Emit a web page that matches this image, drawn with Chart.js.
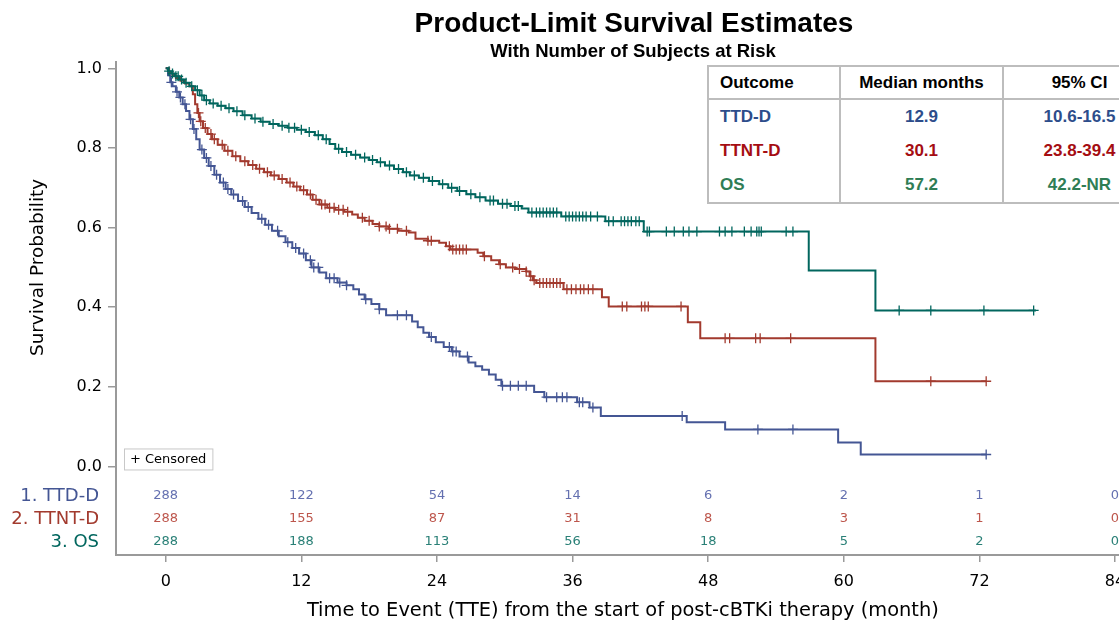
<!DOCTYPE html>
<html>
<head>
<meta charset="utf-8">
<script src="https://cdn.jsdelivr.net/npm/chart.js@4.4.1/dist/chart.umd.min.js"></script>
<style>
  html, body { margin: 0; padding: 0; background: #fff; overflow: hidden; }
  #frame { position: relative; width: 1119px; height: 626px; overflow: hidden; }
  #km { position: absolute; left: 0; top: 0; }
  #summary { position: absolute; left: 707px; top: 65px; width: 447px; table-layout: fixed; border-collapse: collapse;
    font: bold 17px "Liberation Sans", Arial, sans-serif; background: #fff; }
  #summary td { height: 34px; padding: 0; text-align: center; border-left: 2px solid #bdbdbd; }
  #summary tr:first-child td { height: 31px; border-top: 2px solid #bdbdbd; border-bottom: 2px solid #bdbdbd; color: #000; }
  #summary tr:last-child td { border-bottom: 2px solid #bdbdbd; }
  #summary td.name { text-align: left; padding-left: 11px; }
</style>
</head>
<body>
<div id="frame">
  <canvas id="km" width="1136" height="626"></canvas>
  <table id="summary">
    <colgroup><col style="width:132px"><col style="width:163px"><col style="width:152px"></colgroup>
    <tr><td class="name">Outcome</td><td>Median months</td><td>95% CI</td></tr>
    <tr style="color:#2d4d8b"><td class="name">TTD-D</td><td>12.9</td><td>10.6-16.5</td></tr>
    <tr style="color:#a50d12"><td class="name">TTNT-D</td><td>30.1</td><td>23.8-39.4</td></tr>
    <tr style="color:#2f7d55"><td class="name">OS</td><td>57.2</td><td>42.2-NR</td></tr>
  </table>
</div>
<script>
// step points [month, survival]
const ttdSteps = [[0,1],[0.2,0.983],[0.4,0.965],[0.6,0.955],[0.9,0.941],[1.2,0.927],[1.5,0.910],[1.8,0.893],[2.1,0.872],[2.4,0.848],
  [2.7,0.822],[3.0,0.796],[3.4,0.775],[3.8,0.755],[4.3,0.733],[4.8,0.713],[5.3,0.697],[5.8,0.683],[6.4,0.667],[7.0,0.652],
  [7.6,0.637],[8.2,0.622],[8.8,0.607],[9.4,0.592],[10.0,0.578],[10.6,0.563],[11.2,0.549],[11.8,0.535],[12.4,0.518],[12.9,0.500],
  [13.6,0.487],[14.2,0.473],[15.2,0.462],[16.0,0.455],[16.6,0.445],[17.1,0.432],[17.6,0.420],[18.2,0.408],[18.9,0.395],[19.5,0.380],
  [21.8,0.364],[22.3,0.350],[22.8,0.336],[23.3,0.325],[23.9,0.312],[24.6,0.300],[25.3,0.289],[26.0,0.276],[26.8,0.261],[27.4,0.252],
  [28.0,0.243],[28.6,0.231],[29.2,0.218],[29.7,0.203],[32.6,0.187],[33.5,0.174],[36.4,0.161],[37.5,0.148],[38.5,0.127],[46.1,0.111],
  [49.5,0.093],[59.5,0.060],[61.5,0.030],[72.6,0.030]];
const ttntSteps = [[0,1],[0.3,0.990],[0.6,0.983],[0.9,0.976],[1.3,0.969],[1.7,0.962],[2.1,0.955],[2.4,0.935],[2.6,0.910],[2.8,0.888],
  [3.0,0.867],[3.3,0.850],[3.7,0.835],[4.1,0.822],[4.6,0.808],[5.2,0.793],[5.9,0.779],[6.6,0.767],[7.3,0.757],[8.0,0.748],
  [8.7,0.739],[9.3,0.731],[10.0,0.722],[10.7,0.713],[11.3,0.703],[11.9,0.694],[12.5,0.683],[13.0,0.670],[13.6,0.658],[14.3,0.650],
  [15.0,0.645],[15.8,0.640],[16.5,0.633],[17.0,0.625],[17.6,0.617],[18.3,0.609],[18.9,0.603],[19.7,0.597],[20.6,0.592],[21.5,0.588],
  [22.1,0.572],[23.2,0.567],[24.2,0.562],[24.8,0.553],[25.2,0.545],[27.6,0.537],[28.1,0.528],[28.8,0.518],[29.5,0.508],[30.1,0.500],
  [30.9,0.496],[31.9,0.490],[32.2,0.478],[32.5,0.468],[32.8,0.461],[35.2,0.445],[38.6,0.425],[39.2,0.402],[46.2,0.362],[47.3,0.322],
  [62.8,0.214],[72.6,0.214]];
const osSteps = [[0,1],[0.2,0.993],[0.5,0.987],[0.8,0.980],[1.2,0.972],[1.6,0.964],[2.1,0.955],[2.6,0.945],[3.0,0.932],[3.4,0.920],
  [3.9,0.912],[4.6,0.906],[5.3,0.900],[6.0,0.892],[6.8,0.882],[7.6,0.874],[8.4,0.866],[9.2,0.860],[10.0,0.856],[10.8,0.851],
  [11.6,0.846],[12.4,0.840],[13.2,0.832],[13.9,0.822],[14.5,0.810],[15.0,0.798],[15.6,0.790],[16.4,0.783],[17.2,0.776],[18.0,0.770],
  [18.7,0.764],[19.4,0.756],[20.2,0.747],[21.0,0.739],[21.6,0.731],[22.4,0.725],[23.3,0.717],[24.2,0.709],[25.0,0.700],[25.8,0.692],
  [26.6,0.684],[27.4,0.676],[28.3,0.668],[29.4,0.660],[30.5,0.654],[31.5,0.648],[32.1,0.638],[35.0,0.628],[38.9,0.616],[42.3,0.590],
  [56.9,0.492],[62.8,0.392],[77.0,0.392]];

// censoring times (months)
const ttdCensor = [0.5,1.0,1.3,1.7,2.2,2.5,3.2,3.6,4.0,4.5,5.1,5.5,6.0,6.8,7.3,8.5,9.1,9.9,10.8,11.5,12.2,12.8,13.1,13.5,14.5,
  14.9,15.4,16.0,17.7,18.9,20.5,21.3,23.5,25.1,25.4,25.7,26.7,29.8,30.5,31.2,31.9,33.7,34.6,35.1,35.5,36.6,36.9,37.8,45.7,52.4,55.5,72.6];
const ttntCensor = [2.9,3.1,3.5,4.0,4.3,5.0,5.5,6.2,7.0,7.7,8.3,9.0,9.6,10.3,11.0,11.6,12.2,12.8,13.3,13.8,14.1,14.5,14.9,15.3,15.7,
  16.1,17.4,18.0,18.9,19.5,19.8,20.5,21.3,23.2,23.5,25.1,25.4,25.7,26.0,26.3,26.6,28.2,29.6,30.7,31.3,31.9,32.3,32.6,33.1,33.4,
  33.7,34.0,34.3,34.6,34.9,35.5,35.9,36.3,36.7,37.0,37.4,37.8,40.4,40.8,42.1,42.4,42.7,45.6,49.5,49.9,52.2,52.6,55.3,67.7,72.6];
const osCensor = [0.3,0.6,0.9,1.1,1.4,1.8,2.3,2.8,3.2,3.6,4.2,4.9,5.6,6.3,7.0,7.9,8.6,9.5,10.3,10.9,11.4,12.0,12.7,13.5,14.2,
  15.3,16.0,16.8,17.6,18.3,19.0,19.8,20.6,21.3,22.0,22.8,23.6,24.5,25.3,26.0,27.0,27.8,28.7,29.0,29.8,30.2,30.9,31.2,32.4,32.8,
  33.1,33.4,33.7,34.0,34.3,34.6,35.4,35.7,36.0,36.3,36.6,36.9,37.2,37.6,38.2,39.2,39.6,40.3,40.6,40.9,41.2,41.6,41.9,42.6,42.8,
  44.3,45.0,45.8,46.3,47.0,49.0,49.5,50.1,51.2,51.8,52.3,52.5,52.7,54.9,55.5,64.9,67.7,72.4,76.8];

// number at risk
const riskTimes = [0, 12, 24, 36, 48, 60, 72, 84];
const riskTtd  = [288, 122, 54, 14, 6, 2, 1, 0];
const riskTtnt = [288, 155, 87, 31, 8, 3, 1, 0];
const riskOs   = [288, 188, 113, 56, 18, 5, 2, 0];
const riskLabels = ['1. TTD-D', '2. TTNT-D', '3. OS'];

const xTicks = [0, 12, 24, 36, 48, 60, 72, 84];
const yTicks = [0, 0.2, 0.4, 0.6, 0.8, 1.0];

const LINE = ['#445694', '#A23A2E', '#01665E'];
const RISK = ['#6470b0', '#bd564c', '#2a8077'];
const FONT = '"DejaVu Sans", Verdana, sans-serif';

function survAt(steps, t) {
  let s = steps[0][1];
  for (const [tt, ss] of steps) { if (tt <= t) s = ss; else break; }
  return s;
}

function lineSet(steps, color) {
  return { type: 'line', data: steps.map(([t, s]) => ({ x: t, y: s })), borderColor: color,
    borderWidth: 2, stepped: 'before', pointRadius: 0, fill: false };
}
function censorSet(steps, times, color) {
  return { type: 'line', data: times.map(t => ({ x: t, y: survAt(steps, t) })), showLine: false,
    pointStyle: 'cross', pointRadius: 5, pointBorderWidth: 1.3, borderColor: color, backgroundColor: color };
}

const overlay = {
  id: 'overlay',
  afterDraw(chart) {
    const { ctx, scales: { x, y } } = chart;
    ctx.save();
    ctx.fillStyle = '#000';
    ctx.textAlign = 'center';
    ctx.textBaseline = 'middle';
    ctx.font = 'bold 28px "Liberation Sans", Arial, sans-serif';
    ctx.fillText('Product-Limit Survival Estimates', 634, 24);
    ctx.font = 'bold 18.5px "Liberation Sans", Arial, sans-serif';
    ctx.fillText('With Number of Subjects at Risk', 633, 52);

    // y title
    ctx.save();
    ctx.translate(38, y.getPixelForValue(0.5));
    ctx.rotate(-Math.PI / 2);
    ctx.font = '18.4px ' + FONT;
    ctx.fillText('Survival Probability', 0, 0);
    ctx.restore();

    // censored legend
    ctx.font = '13px ' + FONT;
    const lt = '+ Censored';
    const lw = ctx.measureText(lt).width + 12;
    const lx = x.left + 8, ly = y.getPixelForValue(0) - 18;
    ctx.strokeStyle = '#c8c8c8';
    ctx.lineWidth = 1;
    ctx.strokeRect(lx + 0.5, ly + 0.5, lw, 21);
    ctx.textAlign = 'left';
    ctx.fillText(lt, lx + 6, ly + 11);

    // at-risk table
    const rows = [riskTtd, riskTtnt, riskOs];
    const rowY = [-0.074, -0.132, -0.19];
    rows.forEach((vals, i) => {
      const py = y.getPixelForValue(rowY[i]);
      ctx.textAlign = 'right';
      ctx.fillStyle = LINE[i];
      ctx.font = '18px ' + FONT;
      ctx.fillText(riskLabels[i], x.left - 17, py);
      ctx.textAlign = 'center';
      ctx.fillStyle = RISK[i];
      ctx.font = '13px ' + FONT;
      vals.forEach((v, j) => ctx.fillText(String(v), x.getPixelForValue(riskTimes[j]), py));
    });
    ctx.restore();
  }
};

new Chart(document.getElementById('km'), {
  data: {
    datasets: [
      censorSet(osSteps, osCensor, LINE[2]),
      censorSet(ttntSteps, ttntCensor, LINE[1]),
      censorSet(ttdSteps, ttdCensor, LINE[0]),
      lineSet(osSteps, LINE[2]),
      lineSet(ttntSteps, LINE[1]),
      lineSet(ttdSteps, LINE[0])
    ]
  },
  options: {
    responsive: false,
    animation: false,
    devicePixelRatio: 1,
    layout: { padding: { top: 62, left: 0, right: 0, bottom: 0 } },
    plugins: { legend: { display: false }, tooltip: { enabled: false }, title: { display: false } },
    scales: {
      x: {
        type: 'linear', min: -4.4, max: 85.3,
        afterBuildTicks: s => { s.ticks = xTicks.map(v => ({ value: v })); },
        afterFit: s => { s.height = 71; s.paddingLeft = 0; s.paddingRight = 0; },
        grid: { drawOnChartArea: false, drawTicks: true, tickLength: 7, color: '#9a9a9a', lineWidth: 1.5 },
        border: { display: true, color: '#9a9a9a', width: 2 },
        ticks: { color: '#000', font: { family: FONT, size: 16 }, padding: 10, maxRotation: 0 },
        title: { display: true, text: 'Time to Event (TTE) from the start of post-cBTKi therapy (month)',
          color: '#000', font: { family: FONT, size: 19.4 }, padding: { top: 0, bottom: 3 } }
      },
      y: {
        type: 'linear', min: -0.2224, max: 1.016,
        afterBuildTicks: s => { s.ticks = yTicks.map(v => ({ value: v })); },
        afterFit: s => { s.width = 116; s.paddingTop = 0; s.paddingBottom = 0; },
        grid: { drawOnChartArea: false, drawTicks: true, tickLength: 8, color: '#9a9a9a', lineWidth: 1.5 },
        border: { display: true, color: '#9a9a9a', width: 2 },
        ticks: { color: '#000', font: { family: FONT, size: 16 }, padding: 6, callback: v => v.toFixed(1) }
      }
    }
  },
  plugins: [overlay]
});
</script>
</body>
</html>
